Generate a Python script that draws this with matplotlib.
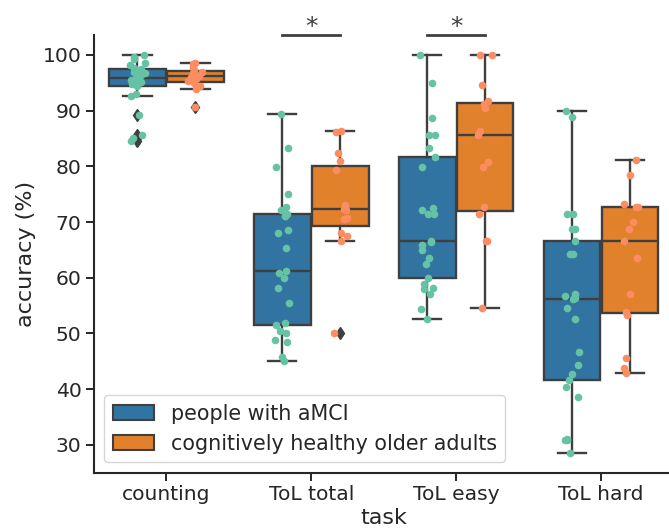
import numpy as np
import matplotlib.pyplot as plt
from matplotlib.patches import Patch

tasks = ["counting", "ToL total", "ToL easy", "ToL hard"]
groups = ["people with aMCI", "cognitively healthy older adults"]

# accuracy (%) per participant
amci_counting = [84.6, 85.0, 85.6, 89.3, 92.7, 93.0, 94.5, 94.8, 95.2, 95.5, 95.7, 95.8, 95.9,
                 96.1, 96.4, 96.7, 97.0, 97.2, 97.4, 97.7, 98.1, 98.6, 99.2, 99.6, 100.0]
amci_total = [45.0, 45.7, 48.4, 48.9, 50.0, 50.4, 51.6, 51.9, 55.4, 58.1, 60.0, 60.9, 61.2,
              65.3, 68.1, 68.5, 71.0, 71.1, 71.4, 72.1, 72.7, 75.0, 79.9, 83.2, 89.4]
amci_easy = [52.6, 54.3, 57.1, 57.9, 58.2, 58.8, 59.9, 62.4, 63.6, 64.9, 65.8, 66.4, 66.6,
             71.4, 71.4, 72.1, 72.6, 79.9, 81.7, 83.2, 85.6, 85.6, 88.7, 94.9, 100.0]
amci_hard = [28.6, 30.8, 30.8, 31.1, 38.5, 40.4, 41.6, 42.8, 44.4, 46.6, 52.6, 54.5, 56.2,
             56.4, 56.7, 57.1, 64.3, 64.3, 66.6, 68.7, 68.7, 71.4, 71.4, 88.8, 89.9]

hc_counting = [90.7, 93.8, 94.5, 95.0, 95.4, 95.7, 96.0, 96.2, 96.5, 96.8, 97.0, 97.3, 97.8, 98.3, 98.6]
hc_total = [50.0, 66.6, 67.5, 68.1, 70.6, 70.8, 72.2, 72.4, 72.6, 73.0, 79.3, 80.9, 82.3, 86.1, 86.3]
hc_easy = [54.6, 66.6, 66.6, 71.4, 72.7, 79.9, 80.8, 85.6, 86.3, 90.4, 91.1, 91.7, 94.6, 100.0, 100.0]
hc_hard = [42.9, 43.8, 45.5, 53.3, 53.9, 57.1, 63.6, 66.6, 68.7, 70.0, 72.7, 72.7, 73.3, 78.5, 81.1]

amci = [amci_counting, amci_total, amci_easy, amci_hard]
hc = [hc_counting, hc_total, hc_easy, hc_hard]

sig_tasks = ["ToL total", "ToL easy"]
sig_label = "*"

box_colors = ["#3274a1", "#e1812c"]
dot_colors = ["#66c2a5", "#fc8d62"]
gray = "#3f3f3f"
ink = "#262626"

plt.rcParams["font.family"] = "DejaVu Sans"
fig = plt.figure(figsize=(6.69, 5.29), dpi=100)
ax = fig.add_axes([0.1405, 0.1068, 0.866, 0.827])

rng = np.random.default_rng(3)
width = 0.4
for g, (series, bc, dc) in enumerate(zip([amci, hc], box_colors, dot_colors)):
    offset = (g - 0.5) * width
    for i, vals in enumerate(series):
        ax.boxplot(vals, positions=[i + offset], widths=width * 0.98, patch_artist=True,
                   manage_ticks=False, whis=1.5,
                   boxprops=dict(facecolor=bc, edgecolor=gray, linewidth=1.7),
                   medianprops=dict(color=gray, linewidth=1.7),
                   whiskerprops=dict(color=gray, linewidth=1.7),
                   capprops=dict(color=gray, linewidth=1.7),
                   flierprops=dict(marker="d", markerfacecolor=gray, markeredgecolor=gray,
                                   markersize=6))
        jit = rng.uniform(-0.055, 0.055, len(vals))
        ax.scatter(i + offset + jit, vals, s=30, color=dc, linewidth=0, zorder=3)

allv = np.concatenate([np.concatenate(amci), np.concatenate(hc)])
lo, hi = allv.min(), allv.max()
pad = 0.05 * (hi - lo)
ax.set_ylim(lo - pad, hi + pad)
ax.set_xlim(-0.5, len(tasks) - 0.5)

sig_y = hi + 3.5
for t in sig_tasks:
    i = tasks.index(t)
    ax.plot([i - width / 2, i + width / 2], [sig_y, sig_y], color=gray, lw=2, clip_on=False)
    ax.text(i, sig_y + 0.3, sig_label, ha="center", va="baseline", fontsize=18, color=gray)

ax.set_xticks(range(len(tasks)))
ax.set_xticklabels(tasks)
ax.set_yticks(range(30, 101, 10))
ax.tick_params(labelsize=14.6, length=5.5, width=1.4, colors=ink)
ax.set_xlabel("task", fontsize=16, color=ink, labelpad=3)
ax.set_ylabel("accuracy (%)", fontsize=16, color=ink, labelpad=5)
for s in ["top", "right"]:
    ax.spines[s].set_visible(False)
for s in ["left", "bottom"]:
    ax.spines[s].set_linewidth(1.5)
    ax.spines[s].set_color(ink)

handles = [Patch(facecolor=c, edgecolor=gray, linewidth=1.5) for c in box_colors]
ax.legend(handles, groups, loc="lower left", fontsize=14.9, labelcolor=ink)

fig.savefig("out.png", dpi=100)
